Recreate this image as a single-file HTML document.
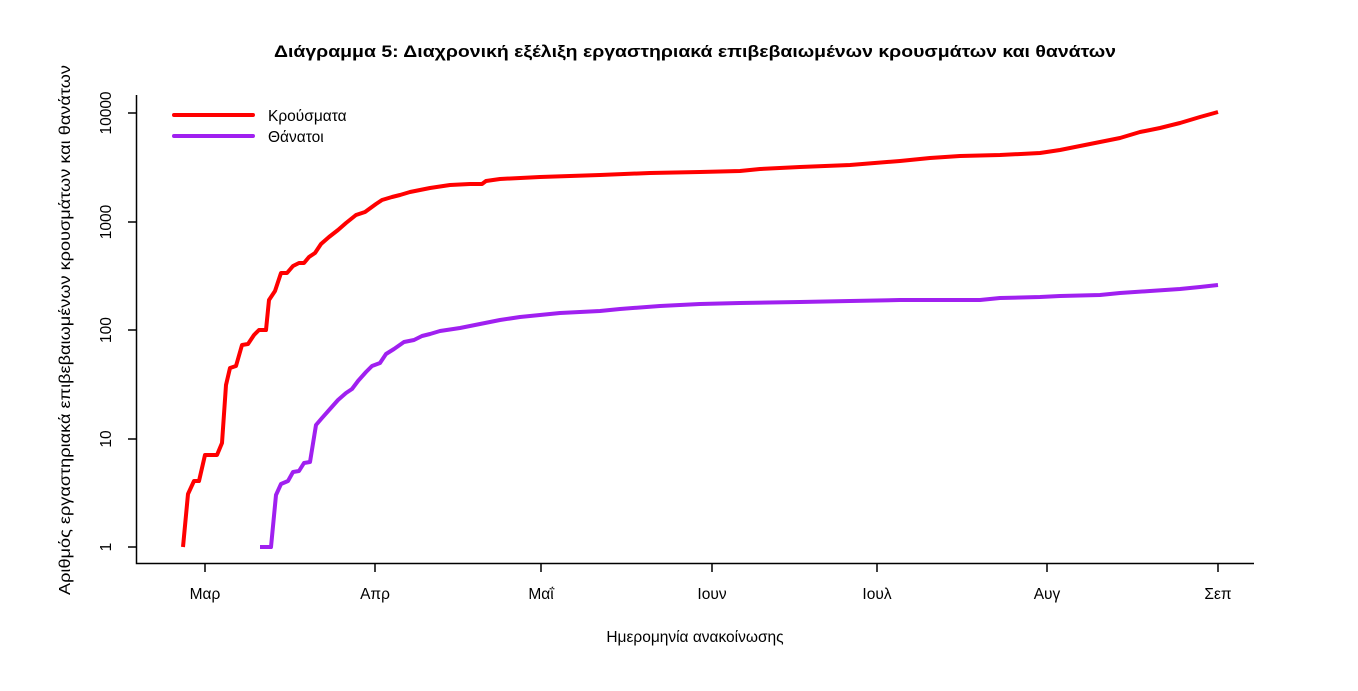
<!DOCTYPE html>
<html><head><meta charset="utf-8"><style>html,body{margin:0;padding:0;background:#fff}</style></head>
<body>
<svg width="1358" height="686" xmlns="http://www.w3.org/2000/svg" font-family="Liberation Sans, DejaVu Sans, sans-serif">
<rect width="1358" height="686" fill="#fff"/>
<text x="695" y="57" text-anchor="middle" font-weight="bold" font-size="17" textLength="842" lengthAdjust="spacingAndGlyphs">Διάγραμμα 5: Διαχρονική εξέλιξη εργαστηριακά επιβεβαιωμένων κρουσμάτων και θανάτων</text>
<polyline points="136.5,95 136.5,563.5 1254,563.5" fill="none" stroke="#000" stroke-width="1.5"/>
<g stroke="#000" stroke-width="1.5">
<line x1="128" y1="113" x2="136" y2="113"/><line x1="128" y1="222" x2="136" y2="222"/><line x1="128" y1="330" x2="136" y2="330"/><line x1="128" y1="439" x2="136" y2="439"/><line x1="128" y1="547" x2="136" y2="547"/>
<line x1="205" y1="563" x2="205" y2="572"/><line x1="375" y1="563" x2="375" y2="572"/><line x1="541" y1="563" x2="541" y2="572"/><line x1="712" y1="563" x2="712" y2="572"/><line x1="877" y1="563" x2="877" y2="572"/><line x1="1047" y1="563" x2="1047" y2="572"/><line x1="1218" y1="563" x2="1218" y2="572"/>
</g>
<g font-size="15.5" text-anchor="middle">
<text transform="translate(111,113) rotate(-90)">10000</text>
<text transform="translate(111,222) rotate(-90)">1000</text>
<text transform="translate(111,330) rotate(-90)">100</text>
<text transform="translate(111,439) rotate(-90)">10</text>
<text transform="translate(111,547) rotate(-90)">1</text>
<text x="205" y="599">Μαρ</text><text x="375" y="599">Απρ</text><text x="541" y="599">Μαΐ</text><text x="712" y="599">Ιουν</text><text x="877" y="599">Ιουλ</text><text x="1047" y="599">Αυγ</text><text x="1218" y="599">Σεπ</text>
<text x="695" y="642">Ημερομηνία ανακοίνωσης</text>
<text transform="translate(70,330) rotate(-90)" textLength="530" lengthAdjust="spacingAndGlyphs">Αριθμός εργαστηριακά επιβεβαιωμένων κρουσμάτων και θανάτων</text>
</g>
<line x1="174" y1="115" x2="253" y2="115" stroke="#f00" stroke-width="4" stroke-linecap="round"/>
<line x1="174" y1="136" x2="253" y2="136" stroke="#a020f0" stroke-width="4" stroke-linecap="round"/>
<text x="268" y="121" font-size="15.5">Κρούσματα</text>
<text x="268" y="142" font-size="15.5">Θάνατοι</text>
<polyline fill="none" stroke="#f00" stroke-width="4" stroke-linejoin="round" points="183,547 188,494 194,481 199,481 205,455 217,455 222,443 226,385 230,368 236,366 242,345 248,344 254,335 259,330 266,330 269,300 275,291 281,273 287,273 293,266 299,263 304,263 309,257 315,253 321,244 329,237 338,230 346,223 356,215 365,212 376,204 382,200 392,197 400,195 410,192 420,190 430,188 450,185 470,184 482,184 486,181 500,179 540,177 600,175 650,173 700,172 740,171 760,169 800,167 850,165 900,161 930,158 960,156 1000,155 1040,153 1060,150 1080,146 1100,142 1120,138 1140,132 1160,128 1180,123 1200,117 1218,112"/>
<polyline fill="none" stroke="#a020f0" stroke-width="4" stroke-linejoin="round" points="260,547 271,547 276,495 281,484 288,481 293,472 299,471 304,463 310,462 316,425 322,418 330,409 338,400 346,393 352,389 358,381 366,372 372,366 380,363 386,354 394,349 404,342 414,340 422,336 430,334 440,331 460,328 480,324 500,320 520,317 540,315 560,313 600,311 620,309 660,306 700,304 740,303 800,302 850,301 900,300 980,300 1000,298 1040,297 1060,296 1100,295 1120,293 1150,291 1180,289 1200,287 1218,285"/>
</svg>
</body></html>
